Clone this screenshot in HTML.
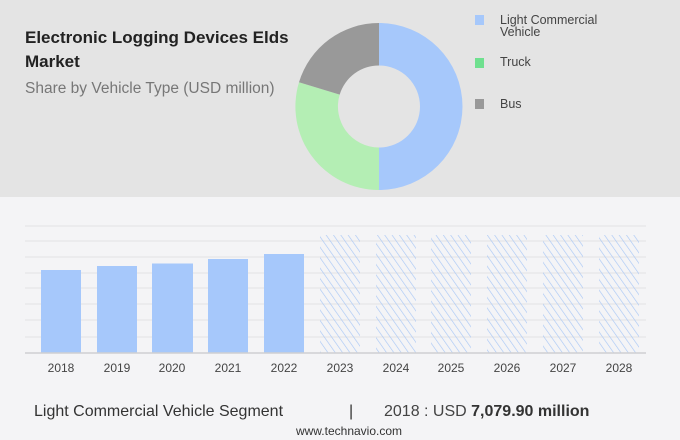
<!DOCTYPE html>
<html><head><meta charset="utf-8"><style>
body{margin:0;width:680px;height:440px;overflow:hidden;background:#f4f4f6;font-family:"Liberation Sans",sans-serif;}
</style></head><body>
<svg width="680" height="440" xmlns="http://www.w3.org/2000/svg" style="position:absolute;left:0;top:0">
<defs>
<pattern id="h" patternUnits="userSpaceOnUse" width="6" height="6" patternTransform="rotate(-35)">
<line x1="0" y1="0" x2="0" y2="6" stroke="#a9c7f5" stroke-width="1.3"/>
</pattern>
</defs>
<rect x="0" y="0" width="680" height="197" fill="#e4e4e4"/>
<text x="25" y="43" font-size="17" font-weight="bold" fill="#222">Electronic Logging Devices Elds</text>
<text x="25" y="67" font-size="17" font-weight="bold" fill="#222">Market</text>
<text x="25" y="93" font-size="15.5" fill="#777">Share by Vehicle Type (USD million)</text>
<path d="M379,23 A83.5,83.5 0 0 1 379,190 L379,147.5 A41,41 0 0 0 379,65.5 Z" fill="#a6c8fb"/>
<path d="M379,190 A83.5,83.5 0 0 1 299,82.3 L339.7,94.6 A41,41 0 0 0 379,147.5 Z" fill="#b4eeb4"/>
<path d="M299,82.3 A83.5,83.5 0 0 1 379,23 L379,65.5 A41,41 0 0 0 339.7,94.6 Z" fill="#999"/>
<rect x="475" y="15" width="9" height="10" fill="#a6c8fb"/>
<rect x="475" y="58" width="9" height="10" fill="#6fe08f"/>
<rect x="475" y="99" width="9" height="10" fill="#999"/>
<g font-size="12.5" fill="#444">
<text x="500" y="24">Light Commercial</text>
<text x="500" y="36">Vehicle</text>
<text x="500" y="66">Truck</text>
<text x="500" y="108">Bus</text>
</g>
<g stroke="#e2e2e4" stroke-width="1">
<line x1="25" x2="646" y1="226" y2="226"/><line x1="25" x2="646" y1="241" y2="241"/>
<line x1="25" x2="646" y1="257" y2="257"/><line x1="25" x2="646" y1="273" y2="273"/>
<line x1="25" x2="646" y1="288" y2="288"/><line x1="25" x2="646" y1="304" y2="304"/>
<line x1="25" x2="646" y1="320" y2="320"/><line x1="25" x2="646" y1="337" y2="337"/>
</g>
<g fill="#a6c8fb">
<rect x="41" y="270" width="40" height="83"/>
<rect x="97" y="266" width="40" height="87"/>
<rect x="152" y="263.5" width="41" height="89.5"/>
<rect x="208" y="259" width="40" height="94"/>
<rect x="264" y="254" width="40" height="99"/>
</g>
<g fill="url(#h)">
<rect x="320" y="235" width="40" height="118"/>
<rect x="376" y="235" width="40" height="118"/>
<rect x="431" y="235" width="40" height="118"/>
<rect x="487" y="235" width="40" height="118"/>
<rect x="543" y="235" width="40" height="118"/>
<rect x="599" y="235" width="40" height="118"/>
</g>
<line x1="25" x2="646" y1="353" y2="353" stroke="#cfcfd2" stroke-width="1.5"/>
<g font-size="12" fill="#444" text-anchor="middle">
<text x="61" y="372">2018</text><text x="117" y="372">2019</text><text x="172" y="372">2020</text>
<text x="228" y="372">2021</text><text x="284" y="372">2022</text><text x="340" y="372">2023</text>
<text x="396" y="372">2024</text><text x="451" y="372">2025</text><text x="507" y="372">2026</text>
<text x="563" y="372">2027</text><text x="619" y="372">2028</text>
</g>
<text x="34" y="416" font-size="16" fill="#333">Light Commercial Vehicle Segment</text>
<text x="349" y="416" font-size="16" fill="#333">|</text>
<text x="384" y="416" font-size="16" fill="#444">2018 : USD <tspan font-weight="bold" fill="#333">7,079.90 million</tspan></text>
<text x="349" y="435" font-size="12" fill="#333" text-anchor="middle">www.technavio.com</text>
</svg>
</body></html>
